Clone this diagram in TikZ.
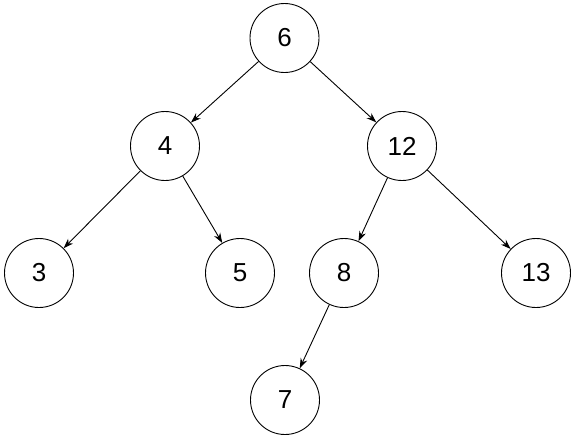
\documentclass[tikz,border=0pt]{standalone}
\usepackage{fontspec}
\setmainfont{Liberation Sans}
\usetikzlibrary{arrows.meta}
\begin{document}
\begin{tikzpicture}[x=1pt,y=-1pt,
  vert/.style={circle,draw,line width=0.9pt,minimum size=69pt,inner sep=0pt,font=\fontsize{26}{30}\selectfont},
  edge/.style={line width=0.9pt,-{Stealth[length=10pt,width=7pt]}}]
\useasboundingbox (0,0) rectangle (572,437);
\node[vert] (n6) at (284.5,38) {6};
\node[vert] (n4) at (165,146) {4};
\node[vert] (n12) at (402,146) {12};
\node[vert] (n3) at (39,273) {3};
\node[vert] (n5) at (240,273) {5};
\node[vert] (n8) at (344,273) {8};
\node[vert] (n13) at (536,273) {13};
\node[vert] (n7) at (285,400) {7};
\draw[edge] (n6) -- (n4);
\draw[edge] (n6) -- (n12);
\draw[edge] (n4) -- (n3);
\draw[edge] (n4) -- (n5);
\draw[edge] (n12) -- (n8);
\draw[edge] (n12) -- (n13);
\draw[edge] (n8) -- (n7);
\end{tikzpicture}
\end{document}
